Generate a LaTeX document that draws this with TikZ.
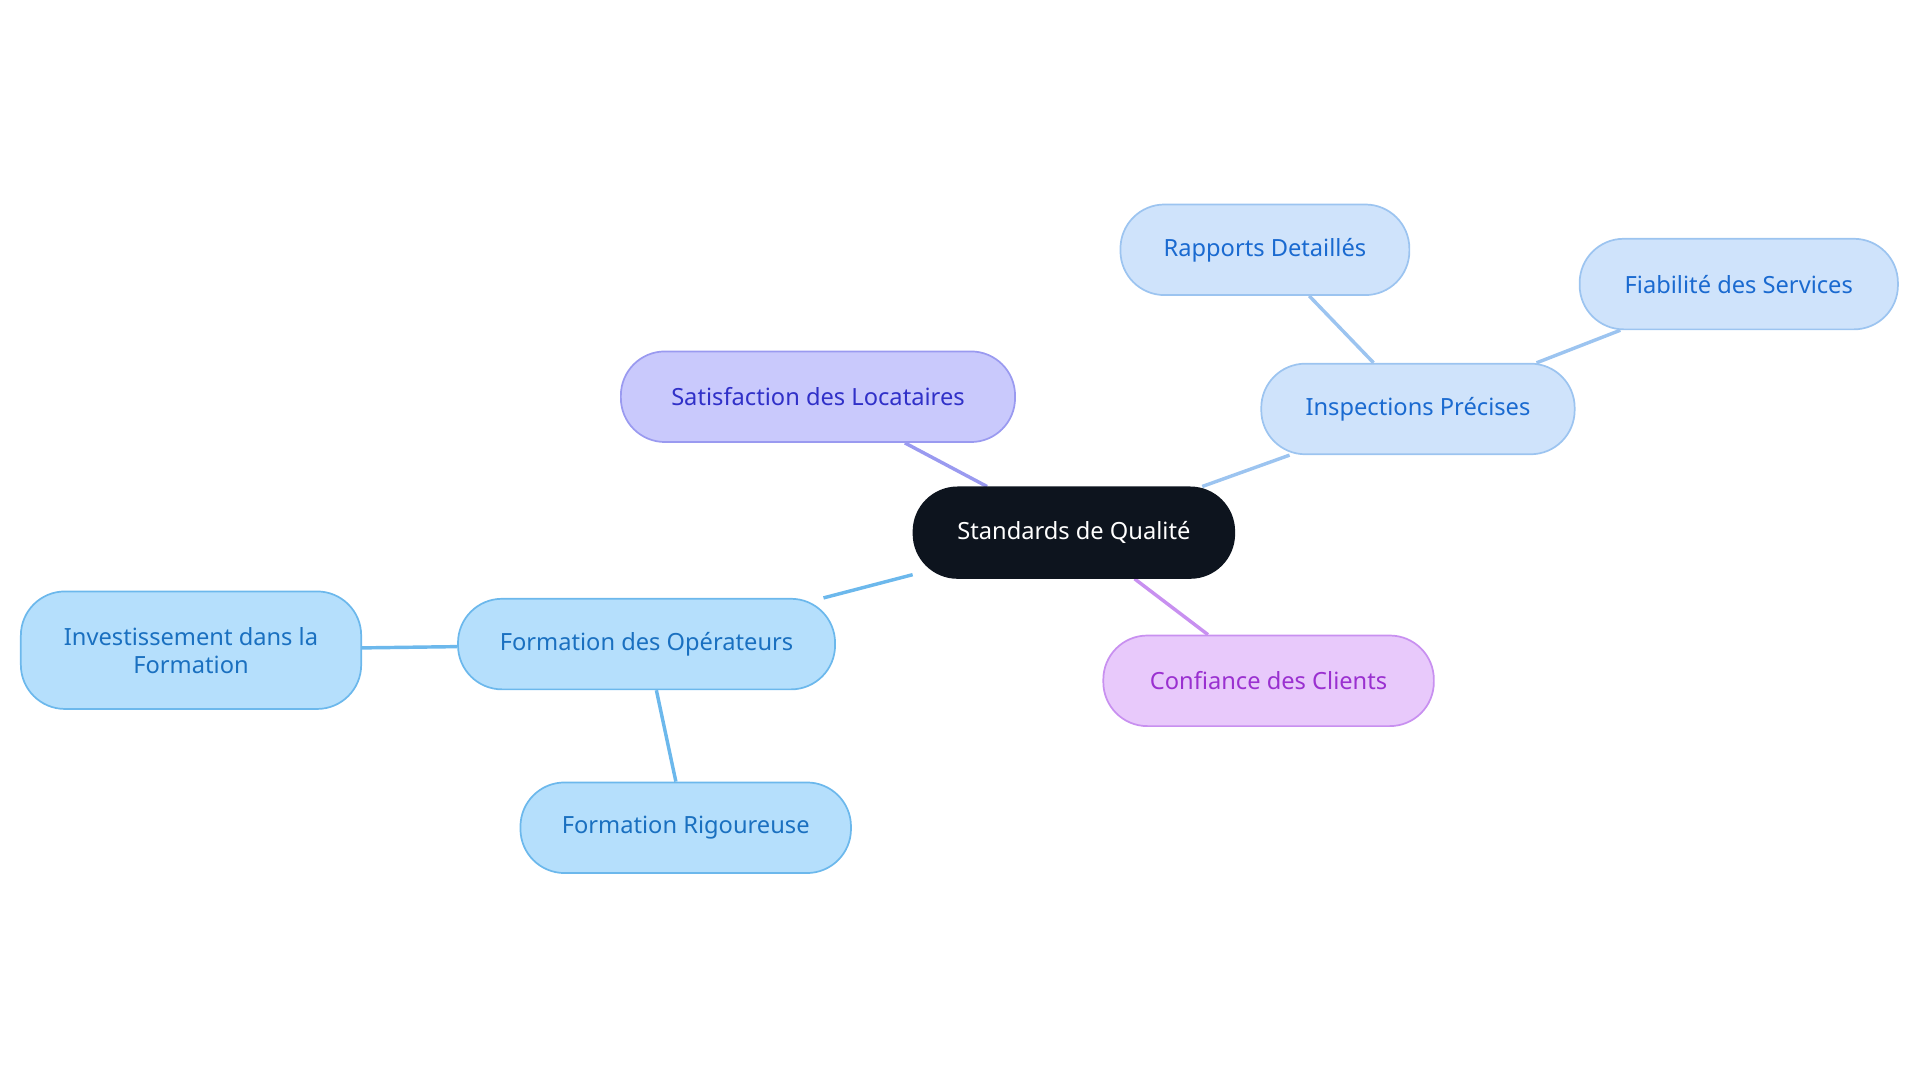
\documentclass[tikz,border=0pt]{standalone}
\usepackage{fontspec}
\setmainfont{Noto Sans}
\usetikzlibrary{positioning,backgrounds}
\definecolor{rootfill}{HTML}{0D141E}
\definecolor{purpfill}{HTML}{C9C9FC}
\definecolor{purpdraw}{HTML}{9A9AF0}
\definecolor{purptext}{HTML}{3030C8}
\definecolor{ltbfill}{HTML}{CFE3FB}
\definecolor{ltbdraw}{HTML}{9CC4F0}
\definecolor{ltbtext}{HTML}{1A6AD0}
\definecolor{skyfill}{HTML}{B5DFFC}
\definecolor{skydraw}{HTML}{6CB8EC}
\definecolor{skytext}{HTML}{1A70C0}
\definecolor{violfill}{HTML}{E8C9FB}
\definecolor{violdraw}{HTML}{C890F0}
\definecolor{violtext}{HTML}{9A30D0}
\begin{document}
\begin{tikzpicture}[x=0.02cm,y=-0.02cm,
			box/.style={rounded corners=0.72cm,minimum height=1.48cm,
				font=\fontsize{11}{13}\selectfont,align=center,line width=0.8pt},
			root node/.style={box,fill=rootfill,draw=rootfill,text=white,minimum width=5.24cm},
			purp node/.style={box,fill=purpfill,draw=purpdraw,text=purptext},
			ltb node/.style={box,fill=ltbfill,draw=ltbdraw,text=ltbtext},
			sky node/.style={box,fill=skyfill,draw=skydraw,text=skytext},
			viol node/.style={box,fill=violfill,draw=violdraw,text=violtext},
			link/.style={line width=1.6pt}]
			
			\useasboundingbox (0,0) rectangle (1568,884);
			
			\node[root node] (R) at (877,435) {Standards de Qualité};
			\node[purp node,minimum width=6.44cm] (S) at (668,324) {Satisfaction des Locataires};
			\node[ltb node,minimum width=5.12cm] (I) at (1158,334) {Inspections Précises};
			\node[ltb node,minimum width=4.72cm] (RD) at (1033,204) {Rapports Detaillés};
			\node[ltb node,minimum width=5.2cm] (F) at (1420,232) {Fiabilité des Services};
			\node[sky node,minimum width=6.16cm] (O) at (528,526) {Formation des Opérateurs};
			\node[sky node,minimum width=5.56cm,minimum height=1.92cm] (IF) at (156,531) {Investissement dans la\\Formation};
			\node[sky node,minimum width=5.4cm] (FR) at (560,676) {Formation Rigoureuse};
			\node[viol node,minimum width=5.4cm] (C) at (1036,556) {Confiance des Clients};
			
			\begin{pgfonlayer}{background}
			\draw[link,purpdraw] (R) -- (S);
			\draw[link,ltbdraw] (R) -- (I);
			\draw[link,ltbdraw] (I) -- (RD);
			\draw[link,ltbdraw] (I) -- (F);
			\draw[link,skydraw] (R) -- (O);
			\draw[link,skydraw] (O) -- (IF);
			\draw[link,skydraw] (O) -- (FR);
			\draw[link,violdraw] (R) -- (C);
			\end{pgfonlayer}
			
		\end{tikzpicture}
\end{document}
